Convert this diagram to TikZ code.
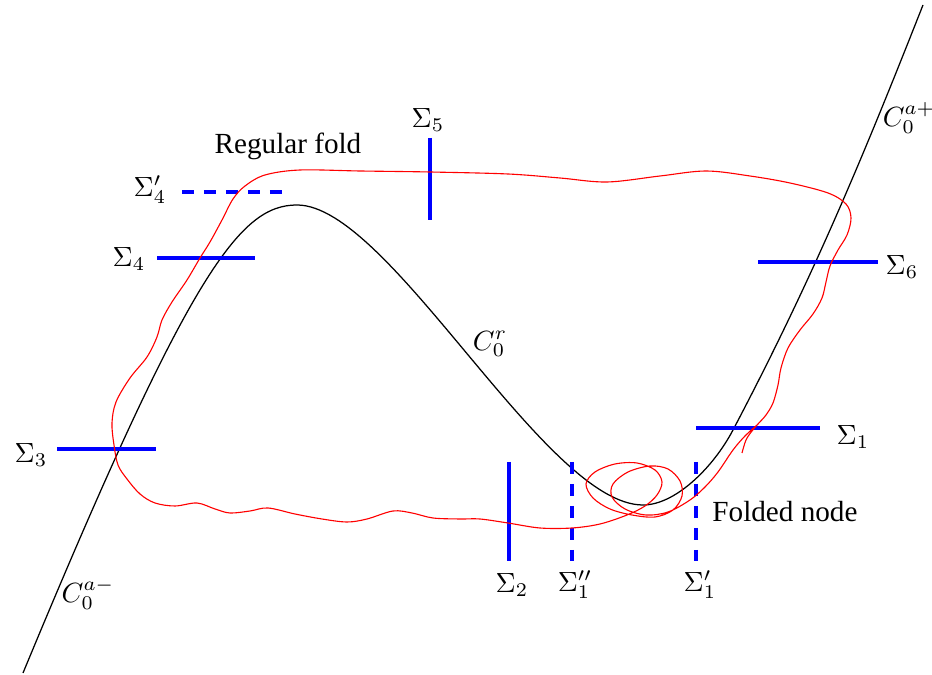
\documentclass[tikz,border=0pt]{standalone}
\usepackage{fontspec}
\setmainfont{Liberation Serif}
\begin{document}
\begin{tikzpicture}[x=0.36pt,y=-0.36pt,
  sec/.style={blue, line width=1.1pt},
  secdash/.style={sec, dash pattern=on 4.3pt off 3.6pt},
  orbit/.style={red, line width=0.4pt},
  crit/.style={black, line width=0.45pt},
  lbl/.style={inner sep=1pt},
  txt/.style={font=\fontsize{10.5}{12}\selectfont, inner sep=1pt}]
\useasboundingbox (0,0) rectangle (932,675);

% critical manifold
\coordinate (cbot) at (23,673);
\coordinate (cpeak) at (297,205);
\coordinate (cmin) at (643,505);
\coordinate (cmid) at (733,430);
\coordinate (ctop) at (923,5);
\draw[crit] (cbot) .. controls (190,270) and (240,205) .. (cpeak)
  .. controls (390,205) and (545,505) .. (cmin)
  .. controls (675,505) and (713,468) .. (cmid)
  .. controls (813,278) and (863,157) .. (ctop);

% sections
\draw[sec] (430,138) -- (430,220);
\draw[secdash] (182,192) -- (282,192);
\draw[sec] (157,258) -- (255,258);
\draw[sec] (57,449) -- (156,449);
\draw[sec] (758,262) -- (878,262);
\draw[sec] (696,428) -- (820,428);
\draw[sec] (509,462) -- (509,561);
\draw[secdash] (572,462) -- (572,561);
\draw[secdash] (696,462) -- (696,561);

% orbit
\draw[orbit] plot[smooth, tension=0.55] coordinates {
(742,453) (746,440) (752,431) (758,424) (766,415) (773,403) (778,385)
(781,368) (788,348) (800,330) (813,314) (822,298) (826,282) (830,266)
(838,250) (847,235) (851,218) (846,204) (828,193) (790,183) (750,176)
(706,171) (660,176) (607,182) (560,178) (508,174) (430,172) (360,171)
(300,170) (265,175) (245,186) (233,199) (222,220) (210,242) (200,258)
(187,280) (172,302) (162,320) (157,337) (147,357) (130,378) (116,402)
(112,423) (114,445) (118,465) (127,479) (140,494) (155,503) (175,506)
(197,503) (215,509) (230,513) (250,511) (268,508) (295,514) (322,519)
(347,522) (367,519) (393,511) (412,513) (433,518) (460,519) (480,519)
(508,523) (540,528) (572,528) (600,524) (627,515) (645,506) (657,495)
(662,482) (655,470) (637,463) (615,464) (595,472) (586,484) (593,498)
(610,509) (632,515) (655,517) (673,510) (682,496) (680,481) (668,469)
(650,466) (628,472) (613,484) (612,497) (625,509) (646,515) (668,512)
(690,500) (705,487) (718,472) (733,450) (745,436) (757,425)};

% labels
\node[lbl] (s5) at (428,120) {$\Sigma_5$};
\node[lbl] (s4p) at (150,190) {$\Sigma_4'$};
\node[lbl] (s4) at (129,259) {$\Sigma_4$};
\node[lbl] (s3) at (31,455) {$\Sigma_3$};
\node[lbl] (s6) at (902,267) {$\Sigma_6$};
\node[lbl] (s1) at (853,437) {$\Sigma_1$};
\node[lbl] (s2) at (512,585) {$\Sigma_2$};
\node[lbl] (s1pp) at (575,585) {$\Sigma_1''$};
\node[lbl] (s1p) at (700,585) {$\Sigma_1'$};
\node[lbl] (cam) at (88,594) {$C_0^{a-}$};
\node[lbl] (cap) at (909,118) {$C_0^{a+}$};
\node[lbl] (cr) at (490,344) {$C_0^{r}$};
\node[txt] (rf) at (288,146) {Regular fold};
\node[txt] (fn) at (785,512) {Folded node};
\end{tikzpicture}
\end{document}
